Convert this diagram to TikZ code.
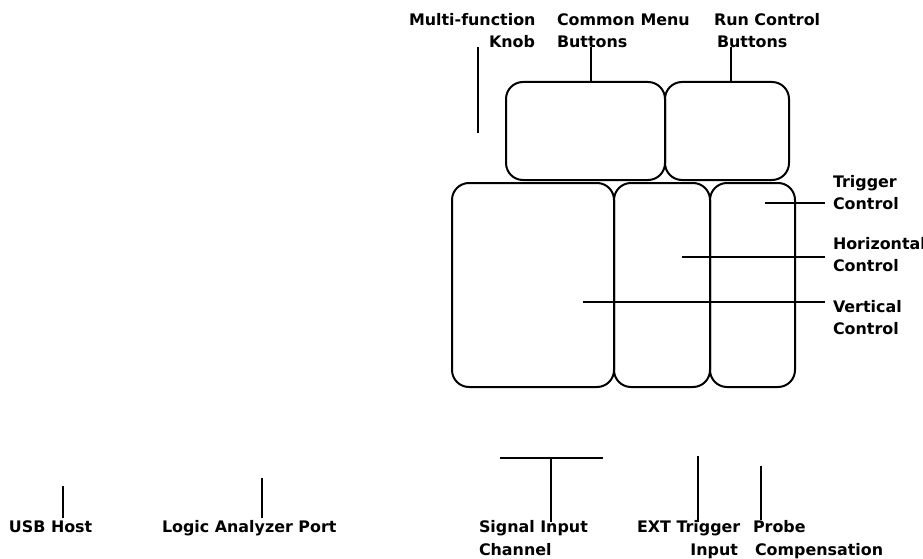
\documentclass[tikz,border=0pt]{standalone}
\usepackage{fontspec}
\setmainfont{DejaVu Sans}
\begin{document}
\begin{tikzpicture}[x=1pt,y=-1pt,
  panel/.style={draw=black,line width=2pt,rounded corners=17pt,inner sep=0pt,outer sep=0pt},
  lead/.style={draw=black,line width=2pt},
  lbl/.style={font=\bfseries\fontsize{15.9}{18}\selectfont,text=black,inner sep=0pt,outer sep=0pt,anchor=base west},
  lblr/.style={lbl,anchor=base east}]
\useasboundingbox (0,0) rectangle (923,559);
\clip (0,0) rectangle (923,559);
% panels
\node[panel,minimum width=159pt,minimum height=98pt] (menu) at (585.5,131) {};
\node[panel,minimum width=124pt,minimum height=98pt] (run) at (727,131) {};
\node[panel,minimum width=162pt,minimum height=204pt] (vert) at (533,285) {};
\node[panel,minimum width=96pt,minimum height=204pt] (horiz) at (662,285) {};
\node[panel,minimum width=85pt,minimum height=204pt] (trig) at (752.5,285) {};
% labels
\node[lbl] (lmulti) at (409,26) {Multi-function};
\node[lblr] (lknob) at (535,48) {Knob};
\node[lbl] (lcommon) at (557,26) {Common Menu};
\node[lbl] (lbuttons) at (557,48) {Buttons};
\node[lbl] (lrun) at (714,26) {Run Control};
\node[lbl] (lbuttonsb) at (717,48) {Buttons};
\node[lbl] (ltrig) at (833,187) {Trigger};
\node[lbl] (ltrigb) at (833,209) {Control};
\node[lbl] (lhoriz) at (833,249) {Horizontal};
\node[lbl] (lhorizb) at (833,271) {Control};
\node[lbl] (lvert) at (833,312) {Vertical};
\node[lbl] (lvertb) at (833,334) {Control};
\node[lbl] (lsig) at (479,532) {Signal Input};
\node[lbl] (lsigb) at (479,555) {Channel};
\node[lbl] (lext) at (637,532) {EXT Trigger};
\node[lblr] (lextb) at (738,555) {Input};
\node[lbl] (lprobe) at (753,532) {Probe};
\node[lbl] (lprobeb) at (755,555) {Compensation};
\node[lbl] (lusb) at (9,532) {USB Host};
\node[lbl] (llogic) at (162,532) {Logic Analyzer Port};
% free ends
\coordinate (k1) at (478,47); \coordinate (k2) at (478,133);
\coordinate (c1) at (591,47); \coordinate (c2) at (591,82);
\coordinate (r1) at (731,47); \coordinate (r2) at (731,82);
\coordinate (t1) at (765,203); \coordinate (t2) at (825,203);
\coordinate (h1) at (682,257); \coordinate (h2) at (825,257);
\coordinate (v1) at (583,302); \coordinate (v2) at (825,302);
\coordinate (s1) at (500,458); \coordinate (s2) at (603,458);
\coordinate (s3) at (551,458); \coordinate (s4) at (551,522);
\coordinate (e1) at (698,456); \coordinate (e2) at (698,522);
\coordinate (p1) at (761,466); \coordinate (p2) at (761,520);
\coordinate (u1) at (63,486); \coordinate (u2) at (63,518);
\coordinate (l1) at (262,478); \coordinate (l2) at (262,518);
% leads
\draw[lead] (k1) -- (k2);
\draw[lead] (c1) -- (c2);
\draw[lead] (r1) -- (r2);
\draw[lead] (t1) -- (t2);
\draw[lead] (h1) -- (h2);
\draw[lead] (v1) -- (v2);
\draw[lead] (s1) -- (s2);
\draw[lead] (s3) -- (s4);
\draw[lead] (e1) -- (e2);
\draw[lead] (p1) -- (p2);
\draw[lead] (u1) -- (u2);
\draw[lead] (l1) -- (l2);
\end{tikzpicture}
\end{document}
